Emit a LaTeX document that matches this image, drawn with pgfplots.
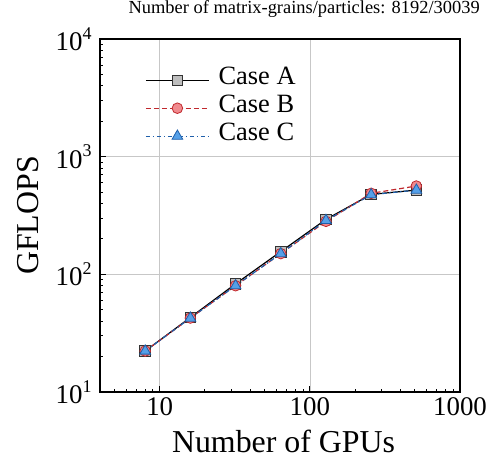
\documentclass[border=0pt]{standalone}
\usepackage{pgfplots}
\pgfplotsset{compat=1.18}
\usepackage{fontspec}
\setmainfont{Liberation Serif}
\usetikzlibrary{calc}
\definecolor{sqfill}{HTML}{BEBEBE}
\definecolor{cred}{HTML}{C0282D}
\definecolor{cpink}{HTML}{F08A8E}
\definecolor{cblue}{HTML}{1F5FAA}
\definecolor{cltblue}{HTML}{55A0E8}
\newcommand\ex[1]{10\raisebox{0.42em}{\fontsize{18}{18}\selectfont #1}}
\begin{document}
\begin{tikzpicture}
\begin{axis}[name=ax, scale only axis, width=360bp, height=353bp,
  xmode=log, ymode=log, xmin=4, xmax=1000, ymin=10, ymax=10000,
  xtick={10,100,1000}, xticklabels={10,100,1000},
  ytick={10,100,1000,10000}, yticklabels={\ex{1},\ex{2},\ex{3},\ex{4}},
  minor xtick={5,6,7,8,9,20,30,40,50,60,70,80,90,200,300,400,500,600,700,800,900},
  minor ytick={20,30,40,50,60,70,80,90,200,300,400,500,600,700,800,900,2000,3000,4000,5000,6000,7000,8000,9000},
  tick align=inside, xtick pos=bottom, ytick pos=left,
  major tick length=6bp, minor tick length=3.5bp,
  grid=major, major grid style={black!22, line width=0.6bp},
  minor grid style={draw=none},
  axis line style={line width=1.3bp},
  tick style={black, line width=0.9bp},
  ticklabel style={font=\fontsize{27}{27}\selectfont},
  xticklabel style={yshift=-2bp},
  yticklabel style={xshift=-5bp},
  xlabel={Number of GPUs}, ylabel={GFLOPS},
  label style={font=\fontsize{32}{32}\selectfont},
  xlabel style={at={(axis description cs:0.51,-0.14)}, anchor=center},
  ylabel style={at={(axis description cs:-0.2,0.5)}, anchor=center, rotate=0},
  title={Number of matrix-grains/particles: 8192/30039},
  title style={font=\fontsize{18.5}{18.5}\selectfont, at={(axis description cs:0.567,1.054)}, anchor=base},
  legend style={at={(axis description cs:0.125,0.9235)}, anchor=north west, draw=none, fill=none, inner sep=0pt,
    font=\fontsize{26.5}{26.5}\selectfont,
    nodes={inner sep=0pt, text height=18bp, text depth=10bp},
    /tikz/every odd column/.append style={column sep=9bp}},
  legend cell align=left,
  legend image code/.code={\draw[mark repeat=2,mark phase=2,#1,line width=1.4bp] plot coordinates {(0bp,0bp) (31.5bp,0bp) (63bp,0bp)};},
]
\addplot[black, line width=1.2bp, mark=square*, mark size=5.3bp, mark options={solid, fill=sqfill, draw=black!80, line width=0.8bp}]
  coordinates {(8,22.3)(16,43)(32,83)(64,156)(128,293)(256,478)(512,520)};
\addlegendentry{Case A}
\addplot[cred, line width=1.2bp, dash pattern=on 5bp off 3bp, mark=*, mark size=5.3bp, mark options={solid, fill=cpink, draw=cred, line width=0.8bp}]
  coordinates {(8,22.3)(16,42.5)(32,80)(64,150)(128,282)(256,488)(512,563)};
\addlegendentry{Case B}
\addplot[cblue, line width=1.2bp, dash pattern=on 4.5bp off 2.5bp on 1.5bp off 2.5bp, mark=triangle*, mark size=6.2bp, mark options={solid, fill=cltblue, draw=cblue, line width=0.8bp}]
  coordinates {(8,22.3)(16,42.5)(32,80)(64,150)(128,287)(256,475)(512,520)};
\addlegendentry{Case C}
\end{axis}
\pgfresetboundingbox
\useasboundingbox ($(ax.south west)+(-100bp,-67bp)$) rectangle ($(ax.north east)+(37bp,39bp)$);
\end{tikzpicture}
\end{document}
